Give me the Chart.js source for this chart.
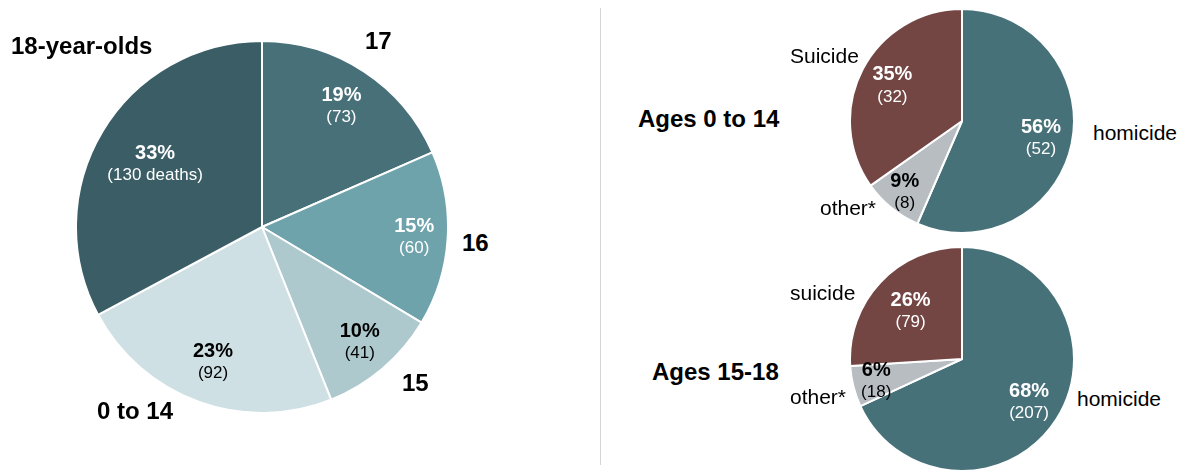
<!DOCTYPE html>
<html>
<head>
<meta charset="utf-8">
<script src="https://cdn.jsdelivr.net/npm/chart.js"></script>
<style>
  body { margin: 0; background: #fff; width: 1186px; height: 472px; position: relative; overflow: hidden;
         font-family: "Liberation Sans", Arial, sans-serif; }
  .box { position: absolute; }
  .lbl { position: absolute; line-height: 1; white-space: nowrap; color: #000; }
  .big { font-size: 24px; font-weight: bold; }
  .small { font-size: 21px; }
  #divider { position: absolute; left: 600px; top: 8px; width: 1px; height: 457px; background: #d6d6d6; }
</style>
</head>
<body>

<div class="box" style="left:75px; top:40px; width:374px; height:374px;"><canvas id="age-chart"></canvas></div>
<div id="divider"></div>
<div class="box" style="left:849px; top:8px; width:226px; height:226px;"><canvas id="young-chart"></canvas></div>
<div class="box" style="left:849px; top:246px; width:226px; height:226px;"><canvas id="teen-chart"></canvas></div>

<script>
/* deaths by age, and by cause for two age groups */

// left pie - ages
const ageLabels = ["17", "16", "15", "0 to 14", "18-year-olds"];
const ageDeaths = [73, 60, 41, 92, 130];
const agePct = ["19%", "15%", "10%", "23%", "33%"];
const ageCounts = ["(73)", "(60)", "(41)", "(92)", "(130 deaths)"];

// right pies - cause
const causeLabels = ["homicide", "other*", "Suicide"];
const youngDeaths = [52, 8, 32];
const youngPct = ["56%", "9%", "35%"];
const youngCounts = ["(52)", "(8)", "(32)"];

const teenLabels = ["homicide", "other*", "suicide"];
const teenDeaths = [207, 18, 79];
const teenPct = ["68%", "6%", "26%"];
const teenCounts = ["(207)", "(18)", "(79)"];

const FONT = '"Liberation Sans", Arial, sans-serif';

// percent + count written inside each slice
const sliceLabels = {
    id: 'sliceLabels',
    afterDatasetsDraw(chart, args, opts) {
        const ctx = chart.ctx;
        const meta = chart.getDatasetMeta(0);
        meta.data.forEach((arc, i) => {
            const mid = (arc.startAngle + arc.endAngle) / 2;
            const r = arc.outerRadius * opts.dist[i];
            const x = arc.x + Math.cos(mid) * r;
            const y = arc.y + Math.sin(mid) * r;
            ctx.save();
            ctx.fillStyle = opts.colors[i];
            ctx.textAlign = 'center';
            ctx.textBaseline = 'middle';
            ctx.font = 'bold 20px ' + FONT;
            ctx.fillText(opts.pct[i], x, y - 10);
            ctx.font = '17px ' + FONT;
            ctx.fillText(opts.counts[i], x, y + 12);
            ctx.restore();
        });
    }
};

function makePie(id, labels, values, colors, pct, counts, dist, textColors) {
    return new Chart(document.getElementById(id), {
        type: 'pie',
        data: {
            labels: labels,
            datasets: [{
                data: values,
                backgroundColor: colors,
                borderColor: '#ffffff',
                borderWidth: 2
            }]
        },
        options: {
            responsive: true,
            maintainAspectRatio: false,
            animation: false,
            layout: { padding: 0 },
            plugins: {
                legend: { display: false },
                tooltip: { enabled: false },
                sliceLabels: { pct: pct, counts: counts, dist: dist, colors: textColors }
            }
        },
        plugins: [sliceLabels]
    });
}

makePie('age-chart', ageLabels, ageDeaths,
    ['#477079', '#6fa3ac', '#adc9ce', '#cee0e4', '#3a5d66'],
    agePct, ageCounts, [0.78, 0.82, 0.81, 0.77, 0.67],
    ['#fff', '#fff', '#000', '#000', '#fff']);

makePie('young-chart', causeLabels, youngDeaths,
    ['#477179', '#b8bdc2', '#734644'],
    youngPct, youngCounts, [0.72, 0.81, 0.70],
    ['#fff', '#000', '#fff']);

makePie('teen-chart', teenLabels, teenDeaths,
    ['#477179', '#b8bdc2', '#734644'],
    teenPct, teenCounts, [0.71, 0.79, 0.63],
    ['#fff', '#000', '#fff']);

/* outer category labels */
function addLabel(text, left, top, cls) {
    const el = document.createElement('div');
    el.className = 'lbl ' + cls;
    el.textContent = text;
    el.style.left = left + 'px';
    el.style.top = top + 'px';
    document.body.appendChild(el);
}

addLabel(ageLabels[4], 11, 34, 'big');
addLabel(ageLabels[0], 365, 29, 'big');
addLabel(ageLabels[1], 462, 231, 'big');
addLabel(ageLabels[2], 402, 371, 'big');
addLabel(ageLabels[3], 97, 399, 'big');

addLabel("Ages 0 to 14", 638, 107, 'big');
addLabel("Ages 15-18", 652, 360, 'big');

addLabel(causeLabels[2], 790, 45, 'small');
addLabel(causeLabels[0], 1093, 122, 'small');
addLabel(causeLabels[1], 820, 197, 'small');

addLabel(teenLabels[2], 790, 282, 'small');
addLabel(teenLabels[1], 790, 386, 'small');
addLabel(teenLabels[0], 1077, 388, 'small');
</script>
</body>
</html>
